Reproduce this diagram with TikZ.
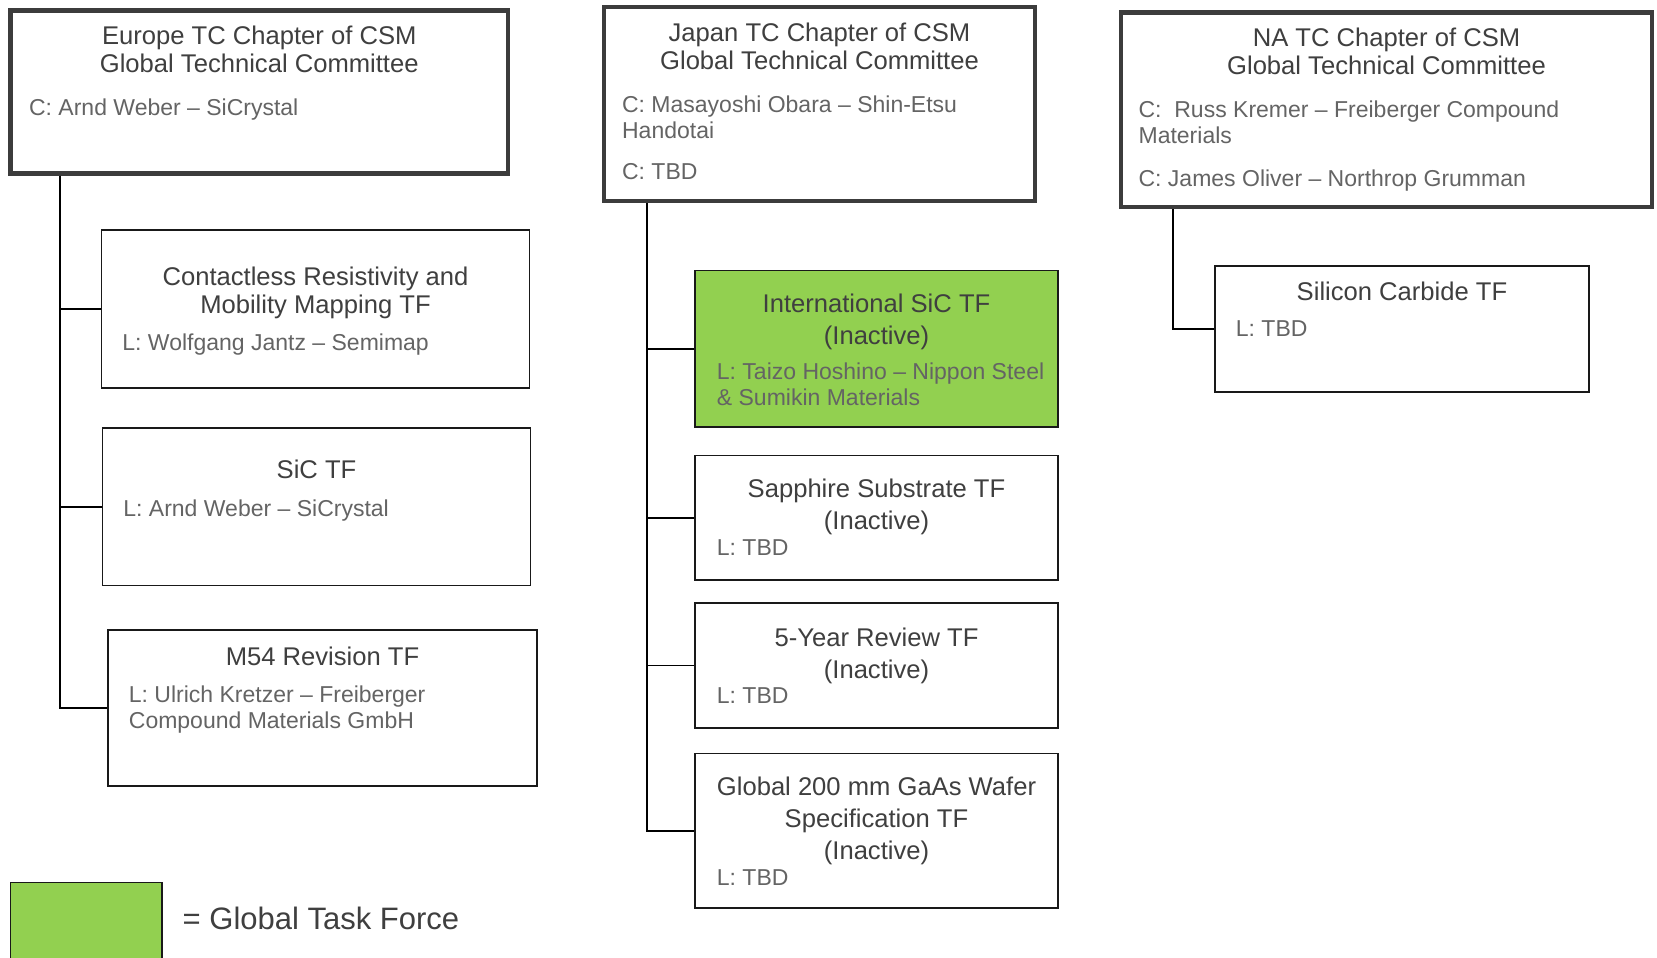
\documentclass[tikz,border=0pt]{standalone}
\usepackage{fontspec}
\setmainfont{Liberation Sans}
\usepackage[dvipsnames]{xcolor}
\usetikzlibrary{positioning}
\definecolor{headline}{HTML}{3C3C3C}
\definecolor{titlegray}{HTML}{3F3F3F}
\definecolor{leadgray}{HTML}{646464}
\definecolor{tfgreen}{HTML}{92D050}

\begin{document}
\begin{tikzpicture}[x=0.5pt,y=-0.5pt,thick,
    head node/.style={draw=headline,line width=2.2pt,fill=white,inner sep=0pt},
    tf node/.style={draw=black!90,line width=0.9pt,fill=white,inner sep=0pt},
    global node/.style={tf node,fill=tfgreen},
    title text/.style={inner sep=0pt,align=center,text=titlegray,font=\fontsize{12.8}{14}\selectfont},
    inactive text/.style={title text,font=\fontsize{12.8}{16}\selectfont},
    lead text/.style={inner sep=0pt,align=left,text=leadgray,font=\fontsize{11.5}{13}\selectfont},
    elbow/.style={to path={|- (\tikztotarget)}}]
                \useasboundingbox (0,0) rectangle (1657,957);

                % chapters
                \node[head node,minimum width=248.75pt,minimum height=81.5pt] (eu) at (259.25,92) {};
                \node[head node,minimum width=215.5pt,minimum height=97pt] (jp) at (819.5,104) {};
                \node[head node,minimum width=265.5pt,minimum height=97.25pt] (na) at (1386.5,109.75) {};

                \node[title text,below=8.55pt of eu.north] (eu-t) {Europe TC Chapter of CSM\\Global Technical Committee};
                \node[lead text,below right=45pt and 10pt of eu.north west] (eu-c) {C: Arnd Weber -- SiCrystal};
                \node[title text,below=8.8pt of jp.north] (jp-t) {Japan TC Chapter of CSM\\Global Technical Committee};
                \node[lead text,below right=45.25pt and 9.75pt of jp.north west] (jp-c) {C: Masayoshi Obara -- Shin-Etsu\\Handotai\\[7.5pt]C: TBD};
                \node[title text,below=8.55pt of na.north] (na-t) {NA TC Chapter of CSM\\Global Technical Committee};
                \node[lead text,below right=45pt and 9.5pt of na.north west] (na-c) {C:~ Russ Kremer -- Freiberger Compound\\Materials\\[8.3pt]C: James Oliver -- Northrop Grumman};

                % europe task forces
                \node[tf node,minimum width=214pt,minimum height=79pt] (eu1) at (315.5,309) {};
                \node[tf node,minimum width=214pt,minimum height=78.75pt] (eu2) at (316.5,506.75) {};
                \node[tf node,minimum width=214.5pt,minimum height=78pt] (eu3) at (322.5,708) {};

                \node[title text,below=18.3pt of eu1.north] (eu1-t) {Contactless Resistivity and\\Mobility Mapping TF};
                \node[lead text,below right=52pt and 10.5pt of eu1.north west] (eu1-l) {L: Wolfgang Jantz -- Semimap};
                \node[title text,below=15.8pt of eu2.north] (eu2-t) {SiC TF};
                \node[lead text,below right=35.75pt and 10.5pt of eu2.north west] (eu2-l) {L: Arnd Weber -- SiCrystal};
                \node[title text,below=8.3pt of eu3.north] (eu3-t) {M54 Revision TF};
                \node[lead text,below right=27.75pt and 10.5pt of eu3.north west] (eu3-l) {L: Ulrich Kretzer -- Freiberger\\Compound Materials GmbH};

                % japan task forces
                \node[global node,minimum width=181.5pt,minimum height=78.25pt] (jp1) at (876.5,348.75) {};
                \node[tf node,minimum width=181.5pt,minimum height=62.25pt] (jp2) at (876.5,517.75) {};
                \node[tf node,minimum width=181.5pt,minimum height=62.5pt] (jp3) at (876.5,665.5) {};
                \node[tf node,minimum width=181.5pt,minimum height=77.25pt] (jp4) at (876.5,830.75) {};

                \node[inactive text,below=11.55pt of jp1.north] (jp1-t) {International SiC TF\\(Inactive)};
                \node[lead text,below right=46pt and 11pt of jp1.north west] (jp1-l) {L: Taizo Hoshino -- Nippon Steel\\\& Sumikin Materials};
                \node[inactive text,below=12pt of jp2.north] (jp2-t) {Sapphire Substrate TF\\(Inactive)};
                \node[lead text,below right=42.25pt and 11pt of jp2.north west] (jp2-l) {L: TBD};
                \node[inactive text,below=12.3pt of jp3.north] (jp3-t) {5-Year Review TF\\(Inactive)};
                \node[lead text,below right=42.25pt and 11pt of jp3.north west] (jp3-l) {L: TBD};
                \node[inactive text,below=12pt of jp4.north] (jp4-t) {Global 200 mm GaAs Wafer\\Specification TF\\(Inactive)};
                \node[lead text,below right=58pt and 11pt of jp4.north west] (jp4-l) {L: TBD};

                % na task force
                \node[tf node,minimum width=187pt,minimum height=63pt] (na1) at (1402,329) {};
                \node[title text,below=8.15pt of na1.north] (na1-t) {Silicon Carbide TF};
                \node[lead text,below right=27.5pt and 10.5pt of na1.north west] (na1-l) {L: TBD};

                % legend
                \node[global node,minimum width=75.75pt,minimum height=58.5pt] (key) at (86.25,941) {};
                \node[anchor=base west,inner sep=0pt,text=titlegray,font=\fontsize{15.5}{18}\selectfont] (key-t)
                    at ([xshift=9.5pt,yshift=-24.1pt]key.north east) {= Global Task Force};

                \coordinate (eu-trunk) at ([xshift=25.75pt]eu.south west);
                \coordinate (jp-trunk) at ([xshift=22.5pt]jp.south west);
                \coordinate (na-trunk) at ([xshift=27pt]na.south west);

                \path[line width=0.9pt]
                    (eu-trunk) edge[elbow] (eu1.west)
                    (eu-trunk) edge[elbow] (eu2.west)
                    (eu-trunk) edge[elbow] (eu3.west)
                    (jp-trunk) edge[elbow] (jp1.west)
                    (jp-trunk) edge[elbow] (jp2.west)
                    (jp-trunk) edge[elbow] (jp3.west)
                    (jp-trunk) edge[elbow] (jp4.west)
                    (na-trunk) edge[elbow] (na1.west)
                    ;
            \end{tikzpicture}
\end{document}
